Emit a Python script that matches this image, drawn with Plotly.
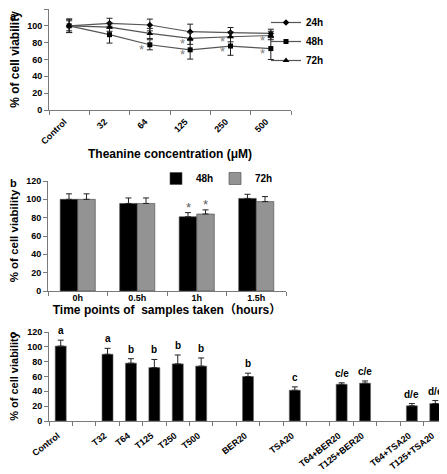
import plotly.graph_objects as go

# The page body has an 8 px margin, so the figure is shifted by OFF px.
W, H = 447, 474
OFF = 8
FW, FH = W - OFF, H - OFF

# ---------------- Panel a data ----------------
conc_labels = ["Control", "32", "64", "125", "250", "500"]
a_24h = [100, 103, 101, 93, 92, 91]
a_24h_err = [8, 6, 7, 9, 6, 5]
a_48h = [100, 89.5, 77.5, 71.5, 76, 73]
a_48h_err = [8, 10, 6, 11, 11, 13]
a_72h = [100, 98.5, 91, 85, 87, 88.5]
a_72h_err = [6, 5, 6, 7, 6, 5]
a_star_48h = ["64", "125", "250", "500"]
a_star_72h = ["125", "250", "500"]

# ---------------- Panel b data ----------------
time_labels = ["0h", "0.5h", "1h", "1.5h"]
b_48h = [100, 95.5, 81, 101]
b_48h_err = [6, 6, 4.5, 4.5]
b_72h = [100, 95.5, 84, 97.5]
b_72h_err = [6, 6, 4.5, 5.5]
b_star = ["1h"]

# ---------------- Panel c data ----------------
c_slots = ["Control", None, "T32", "T64", "T125", "T250", "T500", None,
           "BER20", None, "TSA20", None, "T64+BER20", "T125+BER20", None,
           "T64+TSA20", "T125+TSA20"]
c_values = [101, 90, 78, 72, 77, 74, 60, 41.5, 49.5, 51, 20.5, 23.5]
c_err = [8, 8, 6, 11, 12, 11, 4.5, 4.5, 2, 3, 3, 4]
c_letters = ["a", "a", "b", "b", "b", "b", "b", "c", "c/e", "c/e", "d/e", "d/e"]

FONT = "Liberation Sans, Arial, Noto Sans CJK SC, sans-serif"
AXC = "#7a7a7a"
LINEC = "#555555"


def px_x(p):
    return (p - OFF) / FW


def px_y(p):
    return 1 - (p - OFF) / FH


fig = go.Figure()

a_pos = list(range(len(conc_labels)))

# ---- Panel a traces ----
for name, vals, err, sym, msize in [
    ("24h", a_24h, a_24h_err, "diamond", 5),
    ("48h", a_48h, a_48h_err, "square", 5),
    ("72h", a_72h, a_72h_err, "triangle-up", 6),
]:
    fig.add_trace(go.Scatter(
        x=a_pos, y=vals, name=name, mode="lines+markers",
        line=dict(color=LINEC, width=1.2),
        marker=dict(symbol=sym, size=msize, color="black"),
        error_y=dict(type="data", array=err, color="#222222", thickness=1, width=3),
        xaxis="x", yaxis="y", legend="legend",
    ))

# ---- Panel b traces ----
fig.add_trace(go.Bar(
    x=time_labels, y=b_48h, name="48h",
    marker=dict(color="black", line=dict(color="#444444", width=0.6)),
    error_y=dict(type="data", array=b_48h_err, arrayminus=[0] * len(b_48h),
                 symmetric=False, color="#222222", thickness=1, width=3),
    xaxis="x2", yaxis="y2", legend="legend2",
))
fig.add_trace(go.Bar(
    x=time_labels, y=b_72h, name="72h",
    marker=dict(color="#939393", line=dict(color="#444444", width=0.6)),
    error_y=dict(type="data", array=b_72h_err, arrayminus=[0] * len(b_72h),
                 symmetric=False, color="#222222", thickness=1, width=3),
    xaxis="x2", yaxis="y2", legend="legend2",
))

# ---- Panel c traces ----
c_pos = [i for i, s in enumerate(c_slots) if s is not None]
c_names = [s for s in c_slots if s is not None]
fig.add_trace(go.Bar(
    x=c_pos, y=c_values, showlegend=False, width=0.47,
    marker=dict(color="black", line=dict(color="#666666", width=0.6)),
    error_y=dict(type="data", array=c_err, arrayminus=[0] * len(c_err),
                 symmetric=False, color="#222222", thickness=1, width=3),
    xaxis="x3", yaxis="y3",
))

ann = []
starfont = dict(size=13, color="#808080", family=FONT)
# stars panel a
for cat in a_star_48h:
    i = conc_labels.index(cat)
    ann.append(dict(x=i, y=a_48h[i], xref="x", yref="y", text="*", showarrow=False,
                    xshift=-8, yshift=-5, font=starfont))
for cat in a_star_72h:
    i = conc_labels.index(cat)
    ann.append(dict(x=i, y=a_72h[i], xref="x", yref="y", text="*", showarrow=False,
                    xshift=-8, yshift=-5, font=starfont))
# stars panel b
for cat in b_star:
    i = time_labels.index(cat)
    ann.append(dict(x=cat, y=b_48h[i] + b_48h_err[i], xref="x2", yref="y2", text="*",
                    showarrow=False, xshift=-8.75, yanchor="bottom", yshift=-4,
                    font=dict(size=13, color="#606060", family=FONT)))
    ann.append(dict(x=cat, y=b_72h[i] + b_72h_err[i], xref="x2", yref="y2", text="*",
                    showarrow=False, xshift=8.75, yanchor="bottom", yshift=-4,
                    font=dict(size=13, color="#606060", family=FONT)))
# letters panel c
for p, v, e, t in zip(c_pos, c_values, c_err, c_letters):
    ann.append(dict(x=p, y=v + e, xref="x3", yref="y3", text=t, showarrow=False,
                    yanchor="bottom", yshift=2,
                    font=dict(size=10, color="black", family=FONT, weight="bold")))
# panel letters
for t, yy in [("a", 8), ("b", 183), ("c", 334)]:
    top = px_y(yy) >= 0.99
    ann.append(dict(x=0, y=1 if top else px_y(yy), xref="paper", yref="paper", text=t,
                    showarrow=False, xanchor="left",
                    yanchor="top" if top else "middle",
                    font=dict(size=11, color="black", family=FONT, weight="bold")))

tickfont = dict(size=9, color="black", family=FONT, weight="bold")
titlefont12 = dict(size=12, color="black", family=FONT, weight="bold")

common_ax = dict(showline=True, linecolor=AXC, linewidth=1, ticks="outside",
                 tickcolor=AXC, ticklen=4, showgrid=False, zeroline=False,
                 automargin=False, tickfont=tickfont)

cat_x_ax = dict(showline=True, linecolor=AXC, linewidth=1, ticks="", showgrid=False,
                zeroline=False, automargin=False, tickfont=tickfont, tickmode="array")


def boundary_minor(n):
    return dict(tickmode="array", tickvals=[i - 0.5 for i in range(n + 1)],
                ticks="outside", ticklen=4, tickcolor=AXC, showgrid=False)


fig.update_layout(
    width=FW, height=FH, margin=dict(l=0, r=0, t=0, b=0),
    paper_bgcolor="white", plot_bgcolor="white",
    font=dict(family=FONT, color="black"),
    barmode="group", bargap=0.41, bargroupgap=0,
    annotations=ann,
    xaxis=dict(domain=[px_x(49), px_x(291)], anchor="y",
               range=[-0.5, len(conc_labels) - 0.5],
               tickvals=a_pos, ticktext=conc_labels, tickangle=-45,
               ticklabelshift=-5, ticklabelstandoff=2,
               minor=boundary_minor(len(conc_labels)),
               title=dict(text="Theanine concentration (μM)", font=titlefont12, standoff=4),
               **cat_x_ax),
    yaxis=dict(domain=[px_y(110), px_y(9)], anchor="x", range=[0, 120], dtick=20,
               title=dict(text="% of cell viability", font=titlefont12, standoff=6),
               **common_ax),
    xaxis2=dict(domain=[px_x(48), px_x(286)], anchor="y2", type="category",
                tickson="boundaries", ticklabelstandoff=-2,
                title=dict(text="Time points of  samples taken（hours）", font=titlefont12, standoff=3),
                **common_ax),
    yaxis2=dict(domain=[px_y(291), px_y(181)], anchor="x2", range=[0, 120], dtick=20,
                title=dict(text="% of cell viability", font=dict(size=11.5, color="black", family=FONT, weight="bold"), standoff=6),
                **common_ax),
    xaxis3=dict(domain=[px_x(49), 1.0], anchor="y3", range=[-0.5, len(c_slots) - 0.5],
                tickvals=c_pos, ticktext=c_names, tickangle=-38,
                ticklabelshift=-3, ticklabelstandoff=5,
                minor=boundary_minor(len(c_slots)),
                **cat_x_ax),
    yaxis3=dict(domain=[px_y(421), px_y(332)], anchor="x3", range=[0, 120], dtick=20,
                title=dict(text="% of cell viability", font=dict(size=11, color="black", family=FONT, weight="bold"), standoff=6),
                **common_ax),
    legend=dict(x=px_x(266), y=1, xanchor="left", yanchor="top",
                font=dict(size=10, color="black", family=FONT, weight="bold"),
                bgcolor="rgba(0,0,0,0)", tracegroupgap=0, itemwidth=30),
    legend2=dict(x=px_x(156), y=px_y(164), xanchor="left", yanchor="top",
                 orientation="h", entrywidth=14,
                 font=dict(size=10, color="black", family=FONT, weight="bold"),
                 bgcolor="rgba(0,0,0,0)", itemwidth=30),
)

fig.write_html("out.html")
